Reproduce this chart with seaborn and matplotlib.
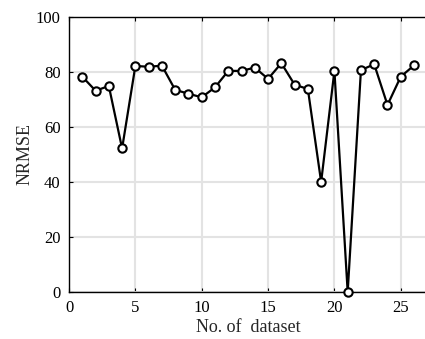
import matplotlib
matplotlib.use("Agg")
import matplotlib.pyplot as plt
import seaborn as sns
import pandas as pd

dataset_no = list(range(1, 27))
nrmse = [78.3, 73.2, 74.9, 52.2, 82.2, 81.9, 82.3, 73.5, 72.1, 70.8,
         74.4, 80.4, 80.4, 81.6, 77.5, 83.2, 75.4, 73.8, 40.0, 80.4,
         0.0, 80.7, 82.8, 68.0, 78.3, 82.4]
x_ticks = [0, 5, 10, 15, 20, 25]
y_ticks = [0, 20, 40, 60, 80, 100]

df = pd.DataFrame({"dataset": dataset_no, "nrmse": nrmse})

sns.set_style("white")
plt.rcParams["font.family"] = ["Liberation Serif", "DejaVu Serif"]

fig = plt.figure(figsize=(4.25, 3.39), dpi=100)
ax = fig.add_axes([0.1624, 0.1386, 0.843, 0.8113])

sns.lineplot(data=df, x="dataset", y="nrmse", ax=ax, color="black",
             linewidth=1.6, marker="o", markersize=6,
             markerfacecolor="white", markeredgecolor="black",
             markeredgewidth=1.5, clip_on=False, zorder=3)

ax.set_xlim(0, 27)
ax.set_ylim(0, 100)
ax.set_xticks(x_ticks)
ax.set_yticks(y_ticks)
ax.grid(True, color="#e3e3e3", linewidth=1.5)
ax.set_axisbelow(True)
ax.tick_params(direction="in", length=3, width=0.8, labelsize=12,
               colors="black", top=True, bottom=True, left=True, right=False)
ax.tick_params(axis="x", pad=6)
ax.tick_params(axis="y", pad=6)
for side in ["left", "bottom", "top"]:
    ax.spines[side].set_visible(True)
    ax.spines[side].set_color("black")
    ax.spines[side].set_linewidth(1.0)
ax.spines["right"].set_visible(False)

ax.set_xlabel("No. of  dataset", fontsize=13, labelpad=2)
ax.set_ylabel("NRMSE", fontsize=13, labelpad=2)

fig.savefig("out.png", dpi=100)
